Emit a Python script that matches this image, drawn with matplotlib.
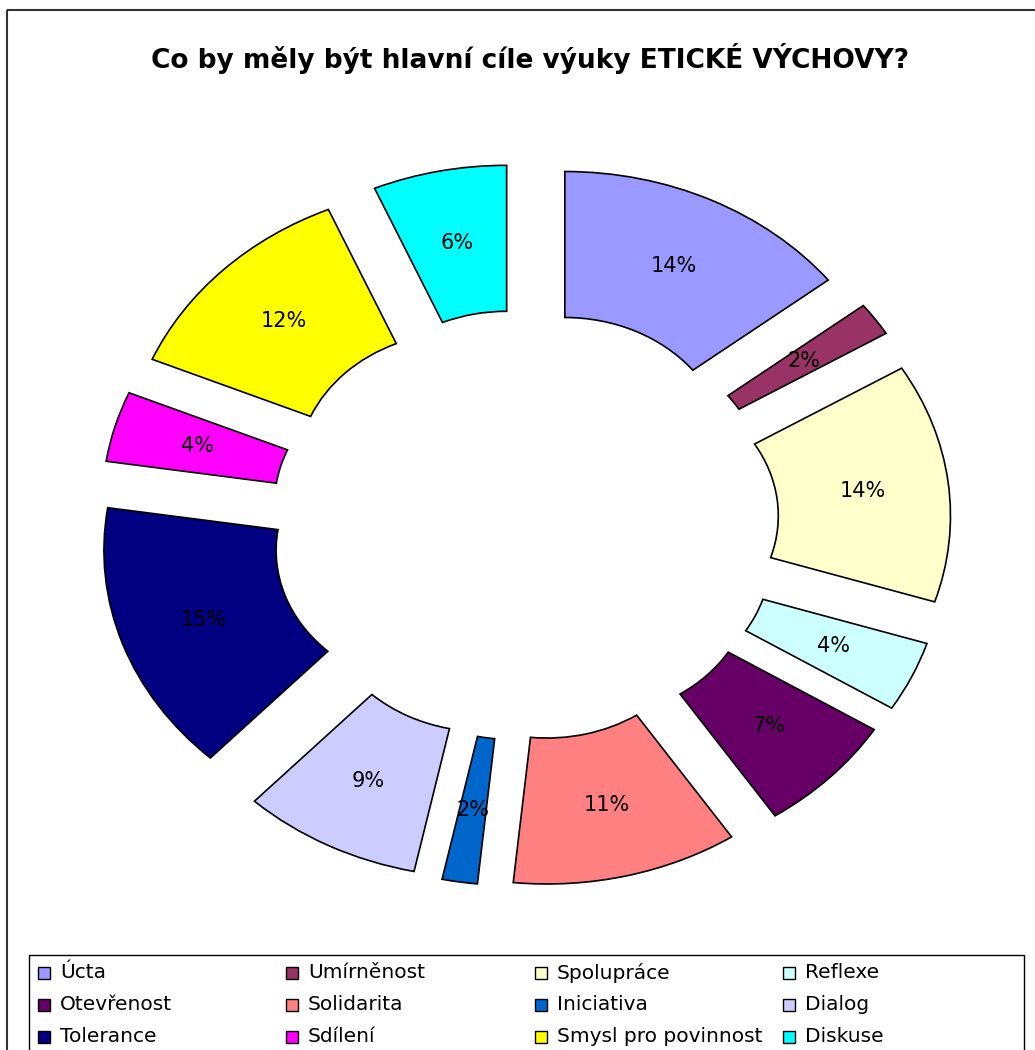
import matplotlib
matplotlib.use("Agg")
import matplotlib.pyplot as plt
from matplotlib.patches import Rectangle
from matplotlib.transforms import Affine2D

title = "Co by měly být hlavní cíle výuky ETICKÉ VÝCHOVY?"
labels = ["Úcta", "Umírněnost", "Spolupráce", "Reflexe",
          "Otevřenost", "Solidarita", "Iniciativa", "Dialog",
          "Tolerance", "Sdílení", "Smysl pro povinnost", "Diskuse"]
# shares (they round to the printed labels)
values = [14.4, 1.9, 13.6, 4.0, 6.8, 10.9, 1.7, 8.65, 15.45, 4.0, 12.15, 6.45]
colors = ["#9999FF", "#993366", "#FFFFCC", "#CCFFFF",
          "#660066", "#FF8080", "#0066CC", "#CCCCFF",
          "#000080", "#FF00FF", "#FFFF00", "#00FFFF"]

W, H = 1035, 1050
fig = plt.figure(figsize=(W / 100, H / 100), dpi=100)
px = Affine2D().scale(1 / W, -1 / H).translate(0, 1) + fig.transFigure

# the original picture is stretched sideways, so the ring is an ellipse
cx, cy = 525, 525      # centre in pixels
sx, sy = 335, 284      # pixels per unit radius
ax = fig.add_axes([0, 0, 1, 1])
ax.pie(values, colors=colors, startangle=90, counterclock=False,
       explode=[0.272] * len(values), radius=1.0,
       wedgeprops=dict(width=0.514, edgecolor="black", linewidth=1.2),
       autopct=lambda p: "%.0f%%" % p, pctdistance=0.743,
       textprops=dict(fontsize=15, color="black"))
ax.set_aspect("auto")
ax.set_xlim(-cx / sx, (W - cx) / sx)
ax.set_ylim(-(H - cy) / sy, cy / sy)
ax.axis("off")

# chart frame
fig.add_artist(Rectangle((7, 10), W + 20, H + 20, transform=px,
                         fill=False, edgecolor="#333333", linewidth=1.5))

fig.text(530, 58, title, transform=px, ha="center", va="center",
         fontsize=19, fontweight="bold")

# legend box, 4 equal columns
fig.add_artist(Rectangle((29, 955), 995, 120, transform=px,
                         fill=False, edgecolor="black", linewidth=1.0))
col_x = [38, 286, 535, 783]
row_y = [973, 1005, 1037]
for i, (lab, c) in enumerate(zip(labels, colors)):
    x0 = col_x[i % 4]
    y0 = row_y[i // 4]
    fig.add_artist(Rectangle((x0, y0 - 6), 12, 12, transform=px,
                             facecolor=c, edgecolor="black", linewidth=1.0))
    fig.text(x0 + 22, y0, lab, transform=px, ha="left", va="center",
             fontsize=14.5)

fig.savefig("out.png", dpi=100)
